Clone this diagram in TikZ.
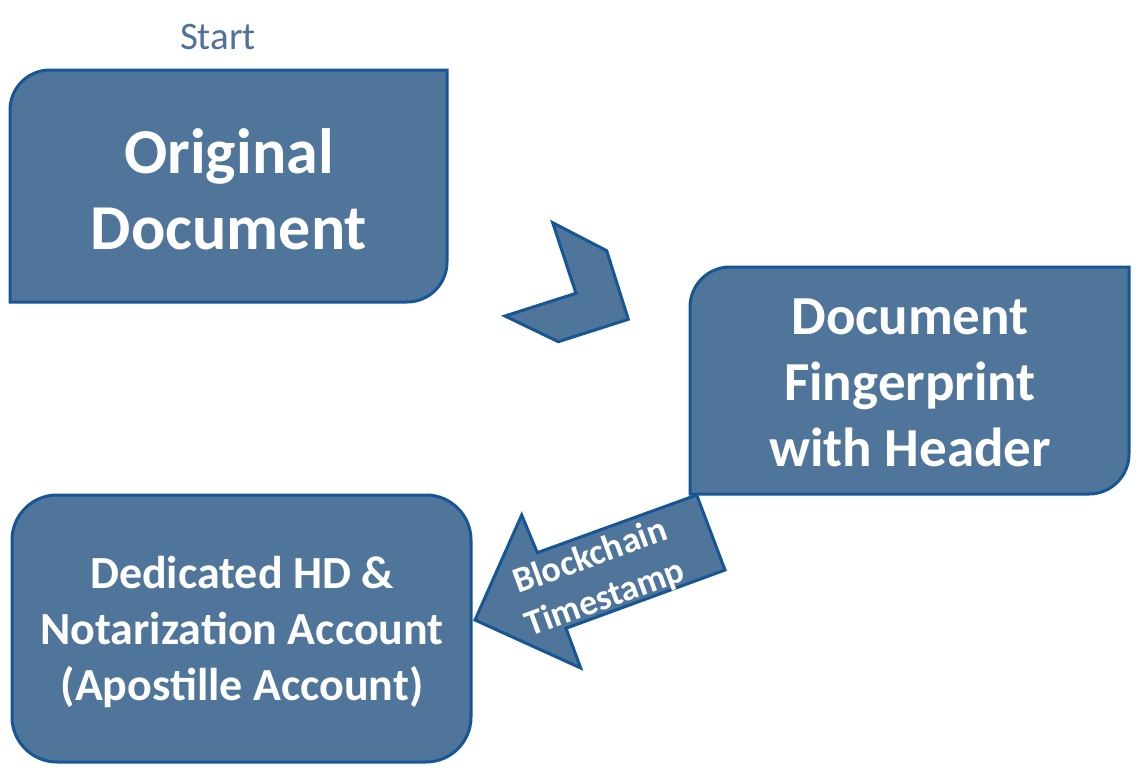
\documentclass[tikz,border=0pt]{standalone}
\usepackage{fontspec}
\setmainfont{Carlito}
\definecolor{boxfill}{RGB}{80,117,154}
\definecolor{boxline}{RGB}{22,86,148}
\definecolor{starttxt}{RGB}{79,114,153}
\tikzset{
  shapebox/.style={fill=boxfill, draw=boxline, line width=3pt, line join=miter},
  lbl/.style={text=white, font=\bfseries, align=center, inner sep=0pt},
}
\begin{document}
\begin{tikzpicture}[x=1pt,y=-1pt]
\useasboundingbox (0,0) rectangle (1144,777);
% Start label
\node[text=starttxt, font=\fontsize{39}{46}\selectfont, inner sep=0pt] (start) at (218,37) {Start};
% Box 1
\draw[shapebox] (10,302) -- (10,110) .. controls (10,87.9) and (27.9,70) .. (50,70) -- (447,70) -- (447,262) .. controls (447,284.1) and (429.1,302) .. (407,302) -- cycle;
% Box 2
\draw[shapebox] (690,494) -- (690,307) .. controls (690,284.9) and (707.9,267) .. (730,267) -- (1129,267) -- (1129,454) .. controls (1129,476.1) and (1111.1,494) .. (1089,494) -- cycle;
% Box 3
\draw[shapebox, rounded corners=45pt] (12,495) rectangle (471,762);
% Chevron
\draw[shapebox] (552.7,222.7) -- (606.7,250.7) -- (628.3,319.3) -- (558.3,341.7) -- (505,316) -- (576,293.3) -- cycle;
% Arrow
\draw[shapebox] (475,620) -- (521.7,515) -- (537.3,552.7) -- (696.7,495) -- (725,570) -- (566,628.3) -- (580.7,668) -- cycle;
% Texts
\node[lbl, font=\bfseries\fontsize{64}{76}\selectfont] (t1) at (229,189) {Original\\Document};
\node[lbl, font=\bfseries\fontsize{55}{66}\selectfont] (t2) at (910,383) {Document\\Fingerprint\\with Header};
\node[lbl, font=\bfseries\fontsize{46}{56}\selectfont] (t3) at (242,632) {Dedicated HD \&\\Notarization Account\\(Apostille Account)};
\node[lbl, font=\bfseries\fontsize{36}{44}\selectfont, rotate=20] (t4) at (598,578) {Blockchain\\Timestamp};
\end{tikzpicture}
\end{document}
